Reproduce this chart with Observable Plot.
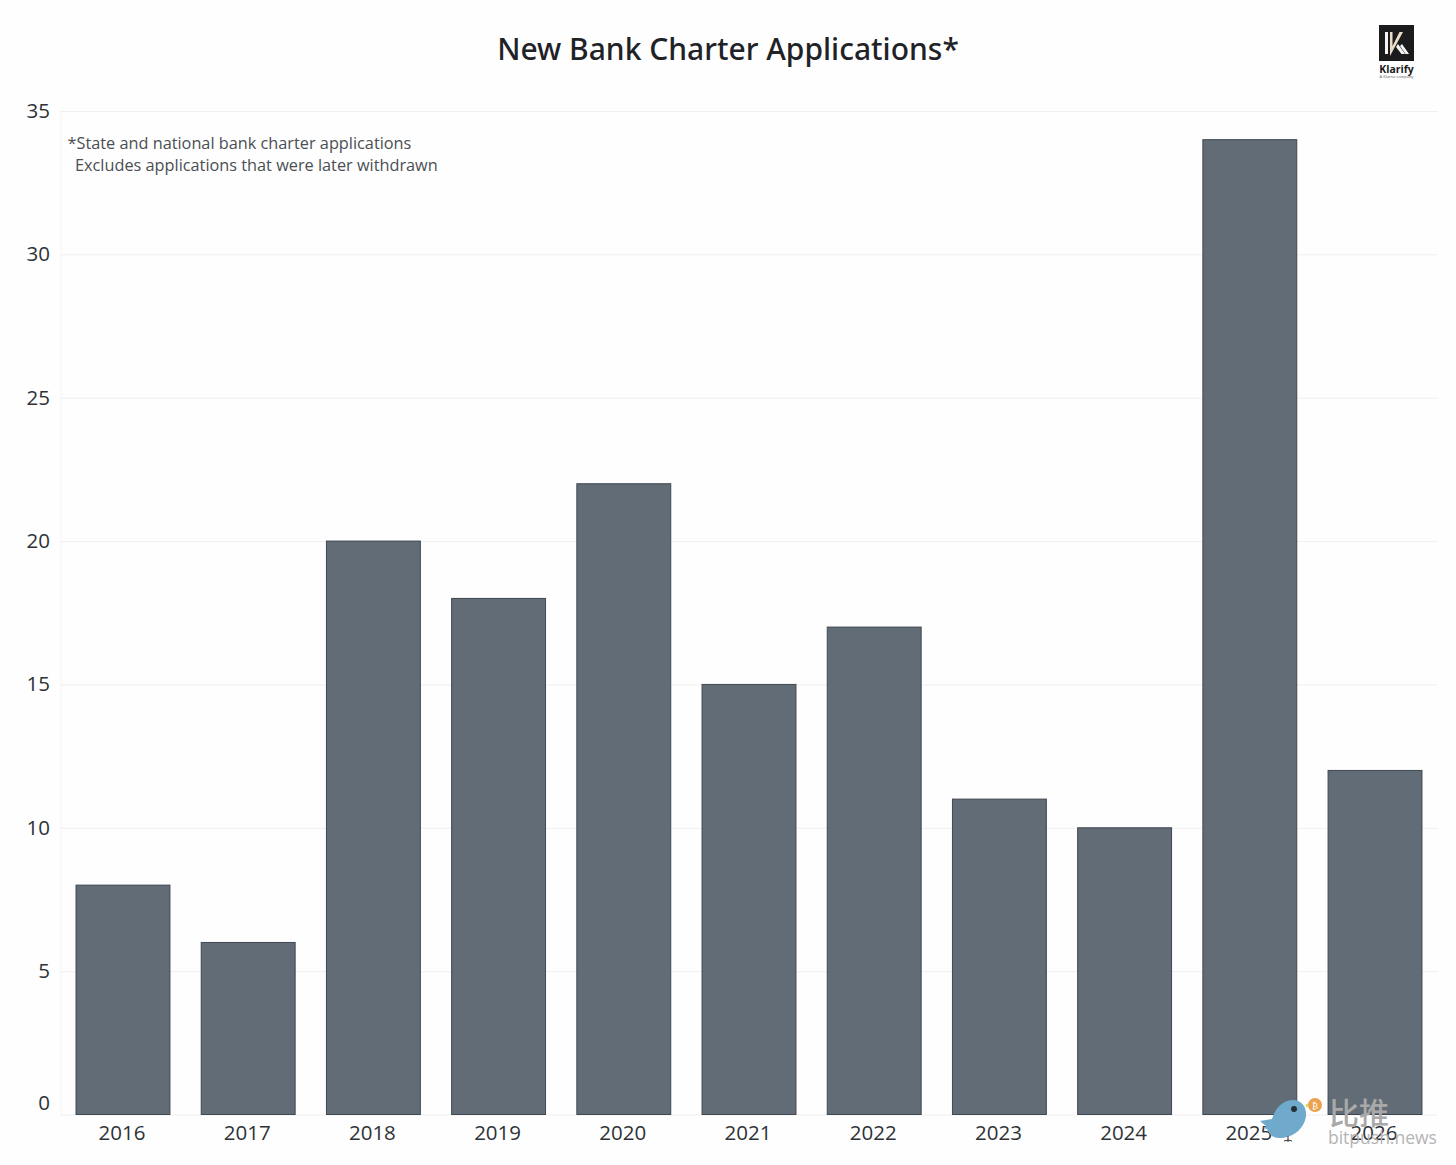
<!DOCTYPE html>
<html lang="en">
<head>
<meta charset="utf-8">
<script src="https://cdn.jsdelivr.net/npm/d3@7"></script>
<script src="https://cdn.jsdelivr.net/npm/@observablehq/plot@0.6"></script>
<style>
  html, body { margin: 0; padding: 0; background: #fefefe; }
  body { position: relative; width: 1456px; height: 1165px; overflow: hidden; font-family: "Open Sans", "Noto Sans", sans-serif; }
  h1 { margin: 0; height: 90px; box-sizing: border-box; padding-top: 27px; text-align: center; font-size: 30px; line-height: 44px; font-weight: 500; color: #1f2328; font-family: "Noto Sans", sans-serif; }
  #chart svg { display: block; }
  .overlay { position: absolute; left: 0; top: 0; pointer-events: none; }
</style>
</head>
<body>
<h1>New Bank Charter Applications*</h1>
<div id="chart"></div>
<svg class="overlay" width="1456" height="1165" viewBox="0 0 1456 1165">
  <!-- Klarify logo -->
  <rect x="1379" y="25" width="35" height="36" fill="#1b1b1d"/>
  <path d="M1385 32h3v22h-3z" fill="#f4f4f4"/>
  <path d="M1390 32h2.500v14l7-14h3.500l-13 24z" fill="#e8dcc6"/>
  <path d="M1396 47l2-3 7 10h-3.500zM1400 46l2-2 7 10h-3.500z" fill="#f4f4f4"/>
  <text x="1396.500" y="73" text-anchor="middle" font-family="Open Sans, sans-serif" font-size="10.500" font-weight="700" fill="#1b1b1d">Klarify</text>
  <text x="1396.500" y="78" text-anchor="middle" font-family="Open Sans, sans-serif" font-size="4" fill="#555">A Klarna company</text>
  <!-- bitpush watermark -->
  <path d="M1260 1121 l12 -2 c3 -10 10 -19 21 -19 c9 0 14 8 13 16 c-2 14 -14 22 -27 22 c-6 0 -10 -4 -12 -9 l-4 -1 l3 -2 z" fill="#6fa9cc"/>
  <circle cx="1294" cy="1109" r="3" fill="#23303a"/>
  <path d="M1305 1105 l4 -2 l-2 5 z" fill="#d9d94f"/>
  <path d="M1288 1136 v6 M1284 1141 q4 -2 8 0" stroke="#333" stroke-width="1" fill="none"/>
  <circle cx="1315" cy="1105" r="7" fill="#eba24f"/>
  <text x="1315" y="1109" text-anchor="middle" font-family="DejaVu Sans" font-size="9" fill="#fff">₿</text>
  <text x="1329" y="1124" font-family="Noto Sans CJK SC" font-size="30" font-weight="500" fill="#a9a9a9">比推</text>
  <text x="1328" y="1144" font-family="Open Sans, sans-serif" font-size="17.500" fill="#b4b4b4">bitpush.news</text>
</svg>
<script>
const years = ["2016","2017","2018","2019","2020","2021","2022","2023","2024","2025","2026"];
const applications = [8, 6, 20, 18, 22, 15, 17, 11, 10, 34, 12];
const yTicks = [5, 10, 15, 20, 25, 30, 35];
const zeroTick = [0];
const gridTicks = [0, 5, 10, 15, 20, 25, 30, 35];
const noteLine1 = "*State and national bank charter applications";
const noteLine2 = "Excludes applications that were later withdrawn";
const rows = years.map((year, i) => ({year, value: applications[i]}));

const tickFont = {fill: "#2e3236", fontFamily: "'Open Sans', sans-serif"};
const noteFont = {fontSize: 16.3, fill: "#4a4e53", fontFamily: "'Open Sans', sans-serif"};
const plot = Plot.plot({
  width: 1456,
  height: 1075,
  marginTop: 21,
  marginBottom: 50.5,
  marginLeft: 60.5,
  marginRight: 18.5,
  style: {background: "transparent", overflow: "visible"},
  x: {domain: years, paddingInner: 0.25, paddingOuter: 0.124, align: 0.5, round: false, label: null, tickSize: 0},
  y: {domain: [0, 35], label: null},
  marks: [
    Plot.frame({anchor: "left", stroke: "#f4f4f4"}),
    Plot.ruleY(gridTicks, {stroke: "#efefef", strokeWidth: 1}),
    Plot.barY(rows, {x: "year", y: "value", fill: "#626c76", stroke: "#3f4750", strokeWidth: 1}),
    Plot.axisX({tickSize: 0, tickPadding: 0, dx: -1.5, dy: 10, label: null, fontSize: 20.5, ...tickFont}),
    Plot.axisY({ticks: yTicks, tickSize: 0, tickPadding: 11, label: null, fontSize: 20.5, ...tickFont}),
    Plot.text(zeroTick, {y: d => d, frameAnchor: "left", text: d => String(d), textAnchor: "end", dx: -11, dy: -12, fontSize: 20.5, ...tickFont}),
    Plot.text([noteLine1], {frameAnchor: "top-left", dx: 6.5, dy: 25.5, textAnchor: "start", lineAnchor: "top", ...noteFont}),
    Plot.text([noteLine2], {frameAnchor: "top-left", dx: 14, dy: 47.5, textAnchor: "start", lineAnchor: "top", ...noteFont})
  ]
});
document.getElementById("chart").append(plot);
</script>
</body>
</html>
